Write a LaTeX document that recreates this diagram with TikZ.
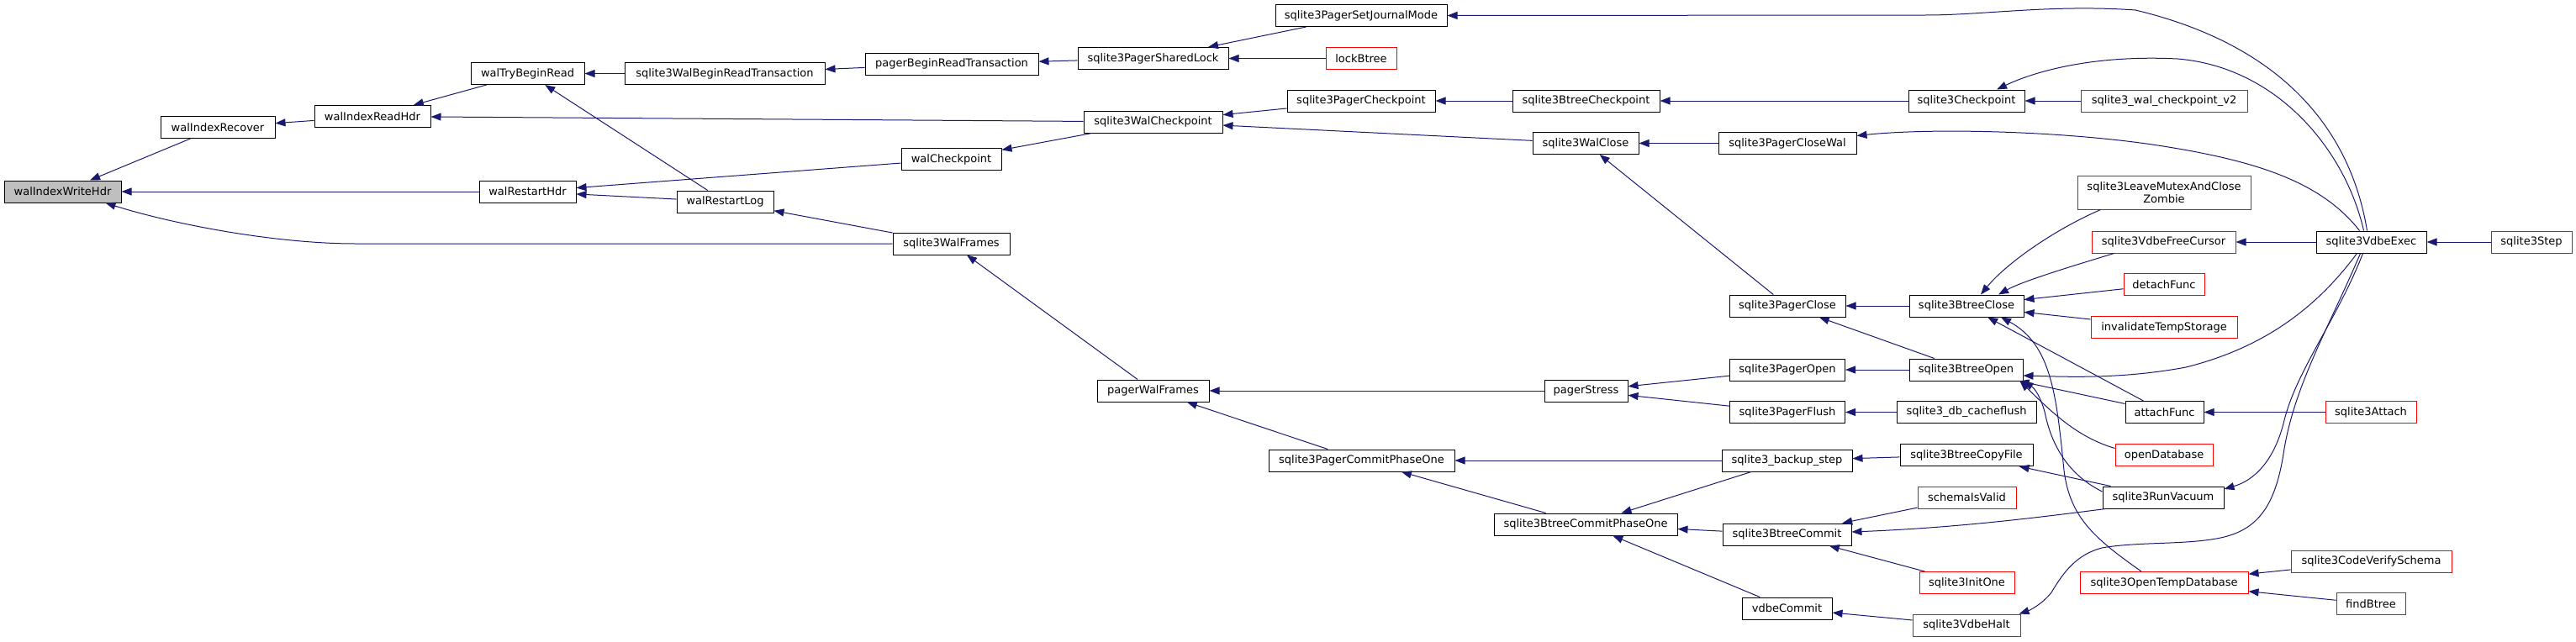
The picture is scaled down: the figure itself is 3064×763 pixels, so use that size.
\documentclass[tikz,border=0pt]{standalone}
\usepackage{fontspec}
\setmainfont{DejaVu Sans}
\usetikzlibrary{arrows.meta}
\definecolor{edgeblue}{HTML}{191970}
\definecolor{rootgray}{HTML}{BFBFBF}
\definecolor{extred}{HTML}{FF0000}
\begin{document}
\begin{tikzpicture}[x=1pt, y=-1pt,
    font=\fontsize{13pt}{15pt}\selectfont,
    fn/.style  ={draw=black, line width=1pt, minimum height=26pt, inner xsep=2pt, inner ysep=1pt},
    root/.style={fn, fill=rootgray},
    ext/.style ={fn, draw=extred},
    call/.style={draw=edgeblue, line width=1pt, -{Triangle[length=12pt,width=9pt]}},
  ]
  \useasboundingbox (0,0) rectangle (3064,763);
  % wal layer
  \node[root, minimum width=139] (wiwh) at (74.5,228) {walIndexWriteHdr};
  \node[fn, minimum width=136] (wirec) at (259,151.5) {walIndexRecover};
  \node[fn, minimum width=138] (wirh) at (443,138.5) {walIndexReadHdr};
  \node[fn, minimum width=135] (wtbr) at (627.5,87.5) {walTryBeginRead};
  \node[fn, minimum width=115] (wrh) at (627.5,228) {walRestartHdr};
  \node[fn, minimum width=238] (wbrt) at (862,87.5) {sqlite3WalBeginReadTransaction};
  \node[fn, minimum width=115] (wrl) at (862.5,240) {walRestartLog};
  \node[fn, minimum width=206] (pbrt) at (1132,76) {pagerBeginReadTransaction};
  \node[fn, minimum width=119] (wcp) at (1131.5,189.5) {walCheckpoint};
  \node[fn, minimum width=139] (wfr) at (1131.5,290) {sqlite3WalFrames};
  \node[fn, minimum width=179] (psl) at (1371.5,69.5) {sqlite3PagerSharedLock};
  \node[fn, minimum width=165] (swcp) at (1371.5,145) {sqlite3WalCheckpoint};
  \node[fn, minimum width=133] (pwf) at (1371.5,465) {pagerWalFrames};
  % pager layer
  \node[fn, minimum width=204] (psjm) at (1619,18.5) {sqlite3PagerSetJournalMode};
  \node[ext, minimum width=84] (lockbt) at (1619,69.5) {lockBtree};
  \node[fn, minimum width=176] (pcp) at (1619,120) {sqlite3PagerCheckpoint};
  \node[fn, minimum width=221] (pcpo) at (1619.5,548) {sqlite3PagerCommitPhaseOne};
  \node[fn, minimum width=175] (btcp) at (1886.5,120) {sqlite3BtreeCheckpoint};
  \node[fn, minimum width=126] (wclose) at (1886,170.5) {sqlite3WalClose};
  \node[fn, minimum width=99] (pstress) at (1886.5,465) {pagerStress};
  \node[fn, minimum width=218] (btcpo) at (1886,624) {sqlite3BtreeCommitPhaseOne};
  \node[fn, minimum width=164] (pcwal) at (2126,170.5) {sqlite3PagerCloseWal};
  \node[fn, minimum width=138] (pclose) at (2126,364) {sqlite3PagerClose};
  \node[fn, minimum width=137] (popen) at (2126,440) {sqlite3PagerOpen};
  \node[fn, minimum width=137] (pflush) at (2126,490.5) {sqlite3PagerFlush};
  \node[fn, minimum width=155] (bkstep) at (2125.5,548) {sqlite3\_backup\_step};
  \node[fn, minimum width=153] (btcommit) at (2125.5,636) {sqlite3BtreeCommit};
  \node[fn, minimum width=107] (vcommit) at (2125.5,724) {vdbeCommit};
  % btree layer
  \node[fn, minimum width=138] (chkpt) at (2339,120) {sqlite3Checkpoint};
  \node[fn, minimum width=136] (btclose) at (2339,364) {sqlite3BtreeClose};
  \node[fn, minimum width=135] (btopen) at (2338.5,440) {sqlite3BtreeOpen};
  \node[fn, minimum width=166] (cacheflush) at (2339,490.5) {sqlite3\_db\_cacheflush};
  \node[fn, minimum width=158] (btcopy) at (2339,541.5) {sqlite3BtreeCopyFile};
  \node[ext, minimum width=117] (schemav) at (2339.5,592) {schemaIsValid};
  \node[ext, minimum width=113] (initone) at (2339.5,693.5) {sqlite3InitOne};
  \node[ext, minimum width=128] (vhalt) at (2339,744) {sqlite3VdbeHalt};
  % callers
  \node[ext, minimum width=198] (walcpv2) at (2574,120) {sqlite3\_wal\_checkpoint\_v2};
  \node[ext, minimum width=206, minimum height=40pt, align=center] (zombie) at (2574,229) {sqlite3LeaveMutexAndClose\\Zombie};
  \node[ext, minimum width=171] (freecur) at (2573.5,288) {sqlite3VdbeFreeCursor};
  \node[ext, minimum width=96] (detach) at (2574,338.5) {detachFunc};
  \node[ext, minimum width=174] (invtemp) at (2574,389.5) {invalidateTempStorage};
  \node[fn, minimum width=93] (attach) at (2574.5,490.5) {attachFunc};
  \node[ext, minimum width=116] (opendb) at (2574,541.5) {openDatabase};
  \node[fn, minimum width=144] (vacuum) at (2573,592) {sqlite3RunVacuum};
  \node[ext, minimum width=200] (opentemp) at (2574,693.5) {sqlite3OpenTempDatabase};
  \node[fn, minimum width=131] (vexec) at (2820.5,288) {sqlite3VdbeExec};
  \node[ext, minimum width=108] (sattach) at (2820,490.5) {sqlite3Attach};
  \node[ext, minimum width=191] (codevs) at (2820.5,668) {sqlite3CodeVerifySchema};
  \node[ext, minimum width=82] (findbt) at (2820,718.5) {findBtree};
  \node[ext, minimum width=96] (sstep) at (3011,288) {sqlite3Step};

  % calls into the wal
  \draw[call] (wirec) -- (wiwh);
  \draw[call] (wrh) -- (wiwh);
  \draw[call] (wfr.west) -- (423,290) .. controls (330,290) and (210,268) .. ([xshift=-19pt]wiwh.south east);
  \draw[call] (wirh) -- (wirec);
  \draw[call] (wtbr) -- (wirh);
  \draw[call] (swcp) -- (wirh);
  \draw[call] (wbrt) -- (wtbr);
  \draw[call] (wrl) -- (wtbr);
  \draw[call] (wcp) -- (wrh);
  \draw[call] (wrl) -- (wrh);
  \draw[call] (pbrt) -- (wbrt);
  \draw[call] (psl) -- (pbrt);
  \draw[call] (psjm) -- (psl);
  \draw[call] (lockbt) -- (psl);
  \draw[call] (swcp) -- (wcp);
  \draw[call] (wfr) -- (wrl);
  \draw[call] (pcp) -- (swcp);
  \draw[call] (wclose) -- (swcp);
  \draw[call] (pwf) -- (wfr);
  \draw[call] (pstress) -- (pwf);
  \draw[call] (pcpo) -- (pwf);
  % pager
  \draw[call] (btcp) -- (pcp);
  \draw[call] (chkpt) -- (btcp);
  \draw[call] (pcwal) -- (wclose);
  \draw[call] (pclose) -- (wclose);
  \draw[call] (popen) -- (pstress);
  \draw[call] (pflush) -- (pstress);
  \draw[call] (bkstep) -- (pcpo);
  \draw[call] (btcpo) -- (pcpo);
  \draw[call] (bkstep) -- (btcpo);
  \draw[call] (btcommit) -- (btcpo);
  \draw[call] (vcommit) -- (btcpo);
  % btree
  \draw[call] (walcpv2) -- (chkpt);
  \draw[call] (btclose) -- (pclose);
  \draw[call] (btopen) -- (pclose);
  \draw[call] (btopen) -- (popen);
  \draw[call] (cacheflush) -- (pflush);
  \draw[call] (btcopy) -- (bkstep);
  \draw[call] (schemav) -- (btcommit);
  \draw[call] (initone) -- (btcommit);
  \draw[call] (vhalt) -- (vcommit);
  \draw[call] ([xshift=4pt]vacuum.south west) .. controls (2430,615) and (2330,628) .. ([yshift=3pt]btcommit.east);
  \draw[call] ([xshift=28pt]zombie.south west) .. controls (2440,275) and (2385,315) .. ([xshift=17pt]btclose.north);
  \draw[call] ([xshift=27pt]freecur.south west) .. controls (2460,318) and (2405,335) .. ([xshift=38pt]btclose.north);
  \draw[call] (detach) -- (btclose);
  \draw[call] (invtemp) -- (btclose);
  \draw[call] (attach) -- (btclose);
  \draw[call] ([xshift=-27pt]opentemp.north) .. controls (2490,640) and (2462,615) .. (2455,560)
    .. controls (2446,470) and (2440,410) .. ([xshift=41pt]btclose.south);
  \draw[call] (attach) -- (btopen);
  \draw[call] ([yshift=7pt]vacuum.west) .. controls (2460,565) and (2440,530) .. (2432,490)
    .. controls (2427,472) and (2420,462) .. (btopen.south east);
  \draw[call] ([yshift=8pt]opendb.west) .. controls (2470,520) and (2440,490) .. ([xshift=-4pt]btopen.south east);
  \draw[call] (vacuum) -- (btcopy);
  % vdbe and friends
  \draw[call] (vexec) -- (freecur);
  \draw[call] (sstep) -- (vexec);
  \draw[call] (sattach) -- (attach);
  \draw[call] (codevs) -- (opentemp);
  \draw[call] (findbt) -- (opentemp);
  \draw[call] ([xshift=-5pt]vexec.north) .. controls (2800,180) and (2740,60) .. (2540,12)
    .. controls (2440,5) and (2360,18) .. (2290,18) -- (psjm.east);
  \draw[call] ([xshift=-9pt]vexec.north) .. controls (2790,180) and (2710,80) .. (2590,70)
    .. controls (2490,65) and (2420,85) .. ([xshift=36pt]chkpt.north);
  \draw[call] ([xshift=-14pt]vexec.north) .. controls (2760,215) and (2680,190) .. (2560,172)
    .. controls (2450,156) and (2300,152) .. ([yshift=9pt]pcwal.east);
  \draw[call] ([xshift=-17pt]vexec.south) .. controls (2760,360) and (2700,412) .. (2600,437)
    .. controls (2520,452) and (2450,448) .. ([yshift=-7pt]btopen.east);
  \draw[call] ([xshift=-10pt]vexec.south) .. controls (2780,380) and (2732,440) .. (2717,500)
    .. controls (2705,550) and (2680,572) .. ([yshift=10pt]vacuum.east);
  \draw[call] ([xshift=-13pt]vexec.south) .. controls (2770,390) and (2728,460) .. (2716,540)
    .. controls (2705,610) and (2680,635) .. (2630,642)
    .. controls (2590,648) and (2540,645) .. (2500,652)
    .. controls (2470,660) and (2455,680) .. (2440,705)
    .. controls (2430,718) and (2415,726) .. ([xshift=-2pt]vhalt.north east);
\end{tikzpicture}
\end{document}
